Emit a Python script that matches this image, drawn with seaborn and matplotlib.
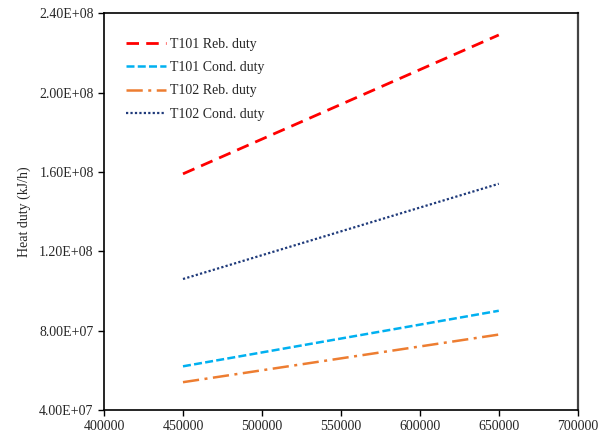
import numpy as np
import pandas as pd
import seaborn as sns
import matplotlib
matplotlib.use("Agg")
import matplotlib.pyplot as plt
from matplotlib.ticker import FuncFormatter, MultipleLocator

# Feed flow rate and heat duties of the two columns
flow = [450000, 500000, 550000, 600000, 650000]
t101_reb = [1.59e8, 1.765e8, 1.94e8, 2.115e8, 2.29e8]
t101_cond = [6.2e7, 6.9e7, 7.6e7, 8.3e7, 9.0e7]
t102_reb = [5.4e7, 6.0e7, 6.6e7, 7.2e7, 7.8e7]
t102_cond = [1.06e8, 1.18e8, 1.30e8, 1.42e8, 1.54e8]

series_names = ["T101 Reb. duty", "T101 Cond. duty", "T102 Reb. duty", "T102 Cond. duty"]
series_values = [t101_reb, t101_cond, t102_reb, t102_cond]
colors = ["#FF0000", "#00B0F0", "#ED7D31", "#1F3A7A"]
dashes = [(4.5, 2.6), (3.2, 1.3), (6.5, 2.2, 1.2, 2.2), (1, 1)]
widths = [2.0, 1.8, 1.8, 1.6]

df = pd.DataFrame({
    "flow": np.tile(flow, len(series_names)),
    "duty": np.concatenate(series_values),
    "series": np.repeat(series_names, len(flow)),
})

sns.set_style("white")
plt.rcParams["font.family"] = ["Liberation Serif", "DejaVu Serif"]

fig = plt.figure(figsize=(6.12, 4.38), dpi=100)
ax = fig.add_axes([0.170, 0.064, 0.774, 0.906])

for name, col, dsh, lw in zip(series_names, colors, dashes, widths):
    sub = df[df["series"] == name]
    sns.lineplot(data=sub, x="flow", y="duty", ax=ax, color=col, lw=lw,
                 label=name, dashes=False)
    ax.lines[-1].set_dashes(dsh)

ax.set_xlim(400000, 700000)
ax.set_ylim(4e7, 2.4e8)
ax.xaxis.set_major_locator(MultipleLocator(50000))
ax.yaxis.set_major_locator(MultipleLocator(4e7))


def sci_fmt(v, _):
    m, e = f"{v:.2E}".split("E")
    return f"{m}E{e}"


ax.yaxis.set_major_formatter(FuncFormatter(sci_fmt))
ax.set_xlabel("")
ax.set_ylabel("Heat duty (kJ/h)", fontsize=10, labelpad=6)
ax.tick_params(axis="both", labelsize=10, direction="out", length=4,
               width=1, color="black", left=True, bottom=True)

for side in ["left", "bottom", "top"]:
    ax.spines[side].set_color("black")
    ax.spines[side].set_linewidth(1.2)
ax.spines["right"].set_color("#444444")
ax.spines["right"].set_linewidth(1.6)

leg = ax.legend(loc="upper left", frameon=False, fontsize=10,
                handlelength=2.9, handletextpad=0.25, labelspacing=0.75,
                bbox_to_anchor=(0.02, 0.97))

fig.savefig("out.png", dpi=100)
